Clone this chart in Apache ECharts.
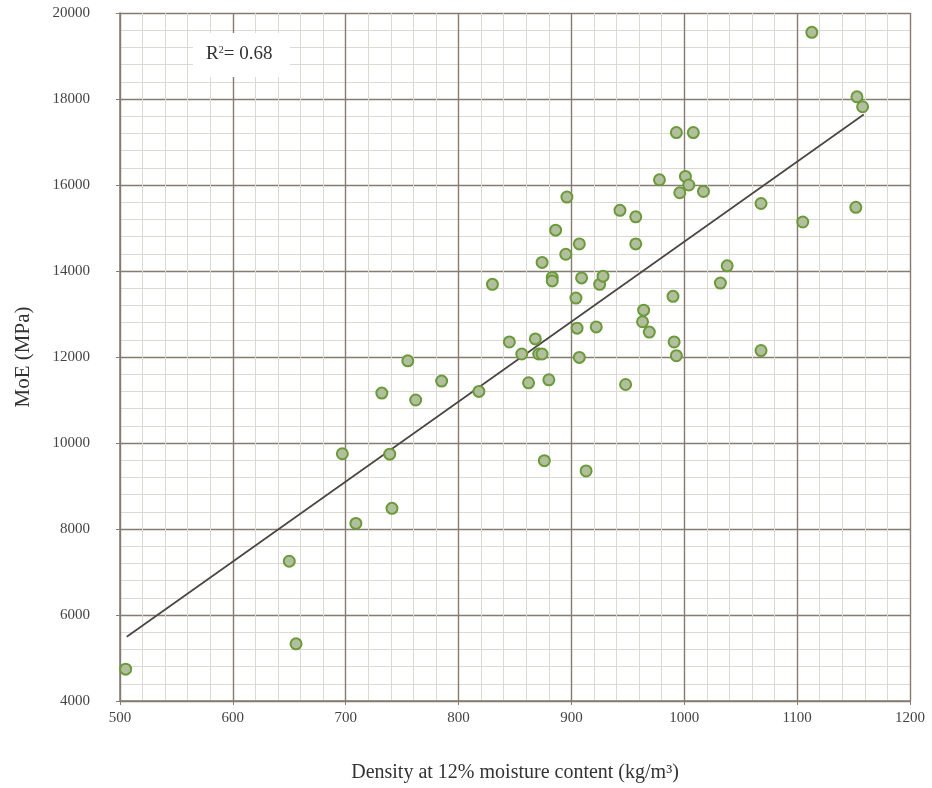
<!DOCTYPE html>
<html>
<head>
<meta charset="utf-8">
<script src="https://cdn.jsdelivr.net/npm/echarts@6/dist/echarts.min.js"></script>
<style>html,body{margin:0;padding:0;background:#fff}#c{width:932px;height:788px}</style>
</head>
<body>
<div id="c"></div>
<script>
var densityValues = [505,650,656,697,709,732,739,741,755,762,785,818,830,845,856,862,868,871,874,874,876,880,883,883,886,895,896,904,905,907,907,909,913,922,925,928,943,948,957,957,963,964,969,978,990,991,993,993,996,1001,1004,1008,1017,1032,1038,1068,1068,1105,1113,1152,1153,1158];
var moeValues = [4740,7250,5330,9750,8130,11160,9740,8480,11910,11000,11440,11200,13690,12350,12070,11400,12420,12070,12070,14200,9590,11470,13850,13770,14950,14390,15720,13370,12670,14630,11990,13840,9350,12700,13690,13880,15410,11360,15260,14630,12820,13090,12580,16120,13410,12350,12030,17220,15820,16200,16000,17220,15850,13720,14120,15570,12150,15140,19550,15480,18050,17820];
var trendX = [506, 1159];
var trendY = [5495, 17640];
var xTicks = [500,600,700,800,900,1000,1100,1200];
var yTicks = [4000,6000,8000,10000,12000,14000,16000,18000,20000];

var pts = densityValues.map(function(d,i){return [d, moeValues[i]];});
var trend = trendX.map(function(d,i){return [d, trendY[i]];});
var font = '"Liberation Serif", "DejaVu Serif", serif';

var chart = echarts.init(document.getElementById('c'), null, {renderer:'canvas'});
chart.setOption({
  backgroundColor:'#fff',
  animation:false,
  grid:{left:120, right:22, top:13, bottom:84, containLabel:false},
  xAxis:{
    type:'value', min:xTicks[0], max:xTicks[xTicks.length-1], interval:100,
    name:'Density at 12% moisture content (kg/m\u00b3)', nameLocation:'middle', nameGap:62,
    nameTextStyle:{fontFamily:font, fontSize:20, color:'#333'},
    axisLine:{show:true, lineStyle:{color:'#857b70', width:1.5}},
    axisTick:{show:true, length:4, lineStyle:{color:'#857b70'}},
    axisLabel:{fontFamily:font, fontSize:15, color:'#444', margin:10, formatter:function(v){return String(v);}},
    splitLine:{show:true, lineStyle:{color:'#857b70', width:1.4}},
    minorTick:{show:false, splitNumber:5},
    minorSplitLine:{show:true, lineStyle:{color:'#dcd8d4', width:1}}
  },
  yAxis:{
    type:'value', min:yTicks[0], max:yTicks[yTicks.length-1], interval:2000,
    name:'MoE (MPa)', nameLocation:'middle', nameGap:86, nameRotate:90,
    nameTextStyle:{fontFamily:font, fontSize:21, color:'#333'},
    axisLine:{show:true, lineStyle:{color:'#857b70', width:1.5}},
    axisTick:{show:true, length:4, lineStyle:{color:'#857b70'}},
    axisLabel:{fontFamily:font, fontSize:15, color:'#444', margin:30, formatter:function(v){return String(v);}},
    splitLine:{show:true, lineStyle:{color:'#857b70', width:1.4}},
    minorTick:{show:false, splitNumber:5},
    minorSplitLine:{show:true, lineStyle:{color:'#dcd8d4', width:1}}
  },
  graphic:[
    {type:'rect', left:193, top:33, shape:{width:97, height:44}, style:{fill:'#fff'}, z:100},
    {type:'text', left:206, top:45, z:101, style:{
      text:'{a|R}{s|2}{a|= 0.68}',
      rich:{
        a:{fontFamily:font, fontSize:19, fill:'#333', color:'#333'},
        s:{fontFamily:font, fontSize:10, fill:'#333', color:'#333', verticalAlign:'top', padding:[0,0,8,0]}
      }
    }}
  ],
  series:[
    {type:'line', data:trend, showSymbol:false, symbol:'none', lineStyle:{color:'#4a4540', width:1.7}, z:2, silent:true},
    {type:'scatter', data:pts, symbol:'circle', symbolSize:11,
     itemStyle:{color:'#b2bf9c', borderColor:'#6a9a3a', borderWidth:2, opacity:1}, z:3}
  ]
});
</script>
</body>
</html>
